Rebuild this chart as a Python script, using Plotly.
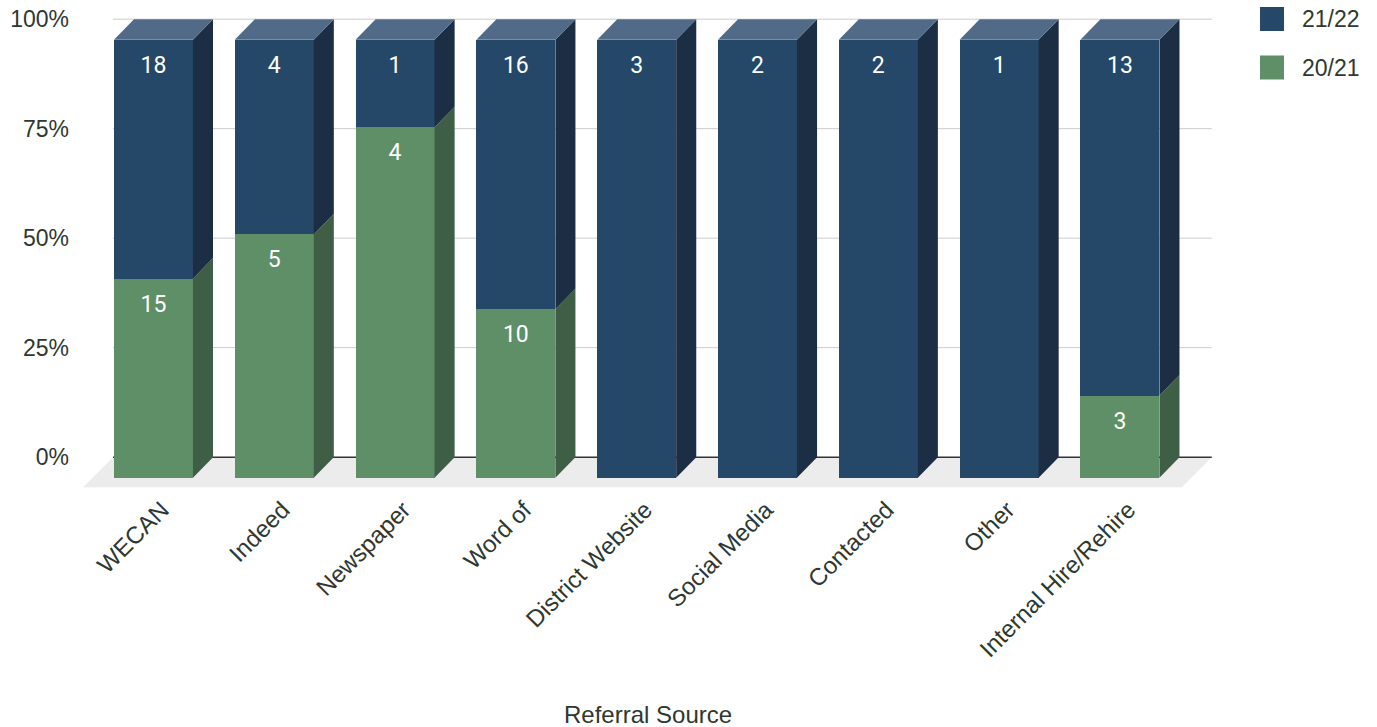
import plotly.graph_objects as go

# ---------------- data ----------------
categories = ["WECAN", "Indeed", "Newspaper", "Word of", "District Website",
              "Social Media", "Contacted", "Other", "Internal Hire/Rehire"]
series_2021 = [15, 5, 4, 10, 0, 0, 0, 0, 3]     # 20/21 (bottom, green)
series_2122 = [18, 4, 1, 16, 3, 2, 2, 1, 13]    # 21/22 (top, blue)
y_ticks = [0, 25, 50, 75, 100]
y_tick_text = ["0%", "25%", "50%", "75%", "100%"]

# ---------------- style / geometry ----------------
W = 0.654      # front face width (category units)
DX = 0.166     # depth offset in x
DY = 4.7       # depth offset in y (%)
FDX = 0.248    # floor depth x
FDY = 6.85     # floor depth y
GX0, GX1 = -0.335, 8.76
LABEL_DROP = 6.2

BLUE_FRONT, BLUE_SIDE, BLUE_TOP = "#264868", "#1b2e44", "#516a87"
GREEN_FRONT, GREEN_SIDE = "#5f8f66", "#3e5e45"
FONT = "Liberation Sans, Arial, sans-serif"
TXT = "#2e3830"

n = len(categories)
xs = list(range(n))
totals = [a + b for a, b in zip(series_2021, series_2122)]
pct_g = [a / t * 100 for a, t in zip(series_2021, totals)]
pct_b = [b / t * 100 for b, t in zip(series_2122, totals)]

fig = go.Figure()

# floor (below traces)
fig.add_shape(type="path", xref="x", yref="y", layer="below",
              path=f"M {GX0} 0 L {GX1} 0 L {GX1 - FDX} {-FDY} L {GX0 - FDX} {-FDY} Z",
              fillcolor="#ececec", line=dict(width=0))

# gridlines (below traces)
for t in y_ticks:
    fig.add_shape(type="line", xref="x", yref="y", layer="below",
                  x0=GX0, x1=GX1, y0=t, y1=t,
                  line=dict(color="#333333" if t == 0 else "#cccccc",
                            width=1.5 if t == 0 else 1))


def side_polys(bases, tops):
    px, py = [], []
    for i, b, t in zip(xs, bases, tops):
        if t - b <= 0:
            continue
        xr = i + W / 2
        px += [xr, xr + DX, xr + DX, xr, xr, None]
        py += [b - DY, b, t, t - DY, b - DY, None]
    return px, py


# front faces
fig.add_trace(go.Bar(x=xs, y=pct_g, base=[-DY] * n, width=W, name="20/21",
                     marker=dict(color=GREEN_FRONT, line=dict(width=0)),
                     hoverinfo="skip", showlegend=False))
fig.add_trace(go.Bar(x=xs, y=pct_b, base=[g - DY for g in pct_g], width=W, name="21/22",
                     marker=dict(color=BLUE_FRONT, line=dict(width=0)),
                     hoverinfo="skip", showlegend=False))

# side faces
gx, gy = side_polys([0] * n, pct_g)
fig.add_trace(go.Scatter(x=gx, y=gy, fill="toself", fillcolor=GREEN_SIDE, mode="lines",
                         line=dict(width=0), hoverinfo="skip", showlegend=False))
bx, by = side_polys(pct_g, [g + b for g, b in zip(pct_g, pct_b)])
fig.add_trace(go.Scatter(x=bx, y=by, fill="toself", fillcolor=BLUE_SIDE, mode="lines",
                         line=dict(width=0), hoverinfo="skip", showlegend=False))

# top faces
tx, ty = [], []
for i, g, b in zip(xs, pct_g, pct_b):
    top = g + b
    xl, xr = i - W / 2, i + W / 2
    tx += [xl, xl + DX, xr + DX, xr, xl, None]
    ty += [top - DY, top, top, top - DY, top - DY, None]
fig.add_trace(go.Scatter(x=tx, y=ty, fill="toself", fillcolor=BLUE_TOP, mode="lines",
                         line=dict(width=0), hoverinfo="skip", showlegend=False))

# data labels
lx, ly, lt = [], [], []
for i, v, g in zip(xs, series_2021, pct_g):
    if v:
        lx.append(i); ly.append(g - DY - LABEL_DROP); lt.append(str(v))
for i, v, g, b in zip(xs, series_2122, pct_g, pct_b):
    if v:
        lx.append(i); ly.append(g + b - DY - LABEL_DROP); lt.append(str(v))
fig.add_trace(go.Scatter(x=lx, y=ly, text=lt, mode="text", textposition="middle center",
                         textfont=dict(family="Roboto, sans-serif", size=23, color="white"),
                         hoverinfo="skip", showlegend=False, cliponaxis=False))

# custom legend
legend_items = [("21/22", BLUE_FRONT), ("20/21", GREEN_FRONT)]
for k, (name, col) in enumerate(legend_items):
    y0 = 7 + k * 48.5
    fig.add_shape(type="rect", xref="paper", yref="paper",
                  x0=(1260 - 80) / 1135, x1=(1284 - 80) / 1135,
                  y0=(490 - y0) / 473, y1=(490 - (y0 + 24)) / 473,
                  fillcolor=col, line=dict(width=0))
    fig.add_annotation(xref="paper", yref="paper", x=(1300 - 80) / 1135,
                       y=(490 - (y0 + 12)) / 473, text=name, showarrow=False,
                       xanchor="left", yanchor="middle",
                       font=dict(family=FONT, size=23, color=TXT))

# axis title
fig.add_annotation(xref="paper", yref="paper", x=0.5, y=(490 - 714) / 473,
                   text="Referral Source", showarrow=False, xanchor="center",
                   yanchor="middle", font=dict(family=FONT, size=24, color=TXT))

fig.update_layout(
    width=1377, height=727,
    margin=dict(l=80, r=162, t=17, b=237, autoexpand=False),
    paper_bgcolor="white", plot_bgcolor="white",
    barmode="overlay", bargap=0,
    xaxis=dict(range=[-0.608, 8.787], showgrid=False, zeroline=False, showline=False,
               tickvals=[i + 0.07 for i in xs], ticktext=categories, tickangle=-45,
               ticks="", tickfont=dict(family=FONT, size=24, color=TXT)),
    yaxis=dict(range=[-7.5, 100.5], showgrid=False, zeroline=False, showline=False,
               tickvals=y_ticks, ticktext=y_tick_text, ticks="",
               ticklabelstandoff=10,
               tickfont=dict(family=FONT, size=23, color=TXT)),
    showlegend=False,
)

fig.write_html("out.html")
